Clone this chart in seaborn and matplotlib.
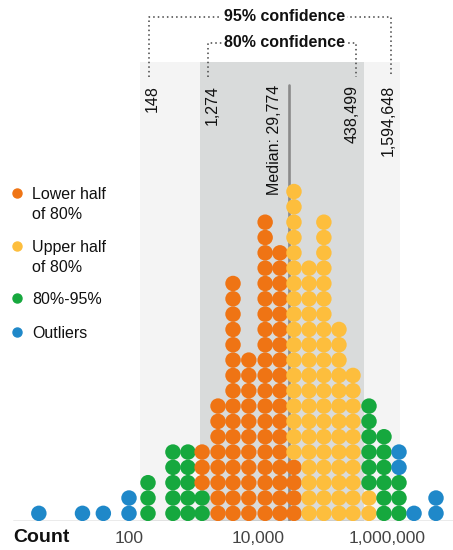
import numpy as np
import pandas as pd
import seaborn as sns
import matplotlib.pyplot as plt

# column positions (value at the centre of each stack) and dot counts per group
col_values = [4, 19, 40, 100, 197, 480, 820, 1360, 2400, 4100, 7200, 12900,
              21900, 36100, 61800, 105000, 180000, 297000, 526000, 898000,
              1535000, 2625000, 5750000]
outliers = [1, 1, 1, 2, 0, 0, 0, 0, 0, 0, 0, 0, 0, 0, 0, 0, 0, 0, 0, 0, 2, 1, 2]
band_80_95 = [0, 0, 0, 0, 3, 5, 5, 2, 0, 0, 0, 0, 0, 0, 0, 0, 0, 0, 6, 6, 3, 0, 0]
lower_half = [0, 0, 0, 0, 0, 0, 0, 3, 8, 16, 11, 20, 18, 4, 0, 0, 0, 0, 0, 0, 0, 0, 0]
upper_half = [0, 0, 0, 0, 0, 0, 0, 0, 0, 0, 0, 0, 0, 18, 17, 20, 13, 10, 2, 0, 0, 0, 0]

median = 29774
ci80 = (1274, 438499)
ci95 = (148, 1594648)
ci80_labels = ('1,274', '438,499')
ci95_labels = ('148', '1,594,648')

tick_values = [100, 10000, 1000000]
tick_labels = ['100', '10,000', '1,000,000']

groups = ['Lower half\nof 80%', 'Upper half\nof 80%', '80%-95%', 'Outliers']
colors = ['#ef7414', '#fdbe3d', '#16a83e', '#1f88c9']
palette = dict(zip(groups, colors))

# stack the dots in each column
rows = []
for i, v in enumerate(col_values):
    counts = {'Outliers': outliers[i], '80%-95%': band_80_95[i],
              'Lower half\nof 80%': lower_half[i], 'Upper half\nof 80%': upper_half[i]}
    if v < median:
        order = ['Outliers', '80%-95%', 'Lower half\nof 80%', 'Upper half\nof 80%']
    else:
        order = ['Lower half\nof 80%', 'Upper half\nof 80%', '80%-95%', 'Outliers']
    level = 0
    for g in order:
        for _ in range(counts[g]):
            rows.append((v, level + 0.5, g))
            level += 1
df = pd.DataFrame(rows, columns=['value', 'row', 'group'])

sns.set_style('white')
plt.rcParams['font.family'] = ['Liberation Sans', 'DejaVu Sans']

W, H = 453, 550
fig = plt.figure(figsize=(W / 100, H / 100), dpi=100)
ax = fig.add_axes([13 / W, 29 / H, 440 / W, 521 / H])
ax.set_xscale('log')
ax.set_xlim(1.59, 1.055e7)
ax.set_ylim(0, 34)

shade_top = 29.94
label_top = 28.44
bracket_bottom = 28.96

# confidence bands
ax.axvspan(ci95[0], ci95[1], ymin=0, ymax=shade_top / 34, color='#f4f4f4', lw=0, zorder=0)
ax.axvspan(ci80[0], ci80[1], ymin=0, ymax=shade_top / 34, color='#d9dbdb', lw=0, zorder=0)

# median line
ax.plot([median, median], [0, label_top], color='#8a8a8a', lw=1.9, zorder=1)

sns.scatterplot(data=df, x='value', y='row', hue='group', palette=palette,
                s=124, linewidth=0, legend=False, ax=ax, zorder=3)

ax.axhline(0, color='#9a9a9a', lw=1, zorder=2)

for s in ax.spines.values():
    s.set_visible(False)
ax.set_xlabel('')
ax.set_ylabel('')
ax.set_yticks([])
ax.xaxis.set_minor_locator(plt.NullLocator())
ax.set_xticks(tick_values)
ax.set_xticklabels(tick_labels)
ax.tick_params(axis='x', length=0, pad=7, labelsize=12.5, labelcolor='#444444')


def shift(v, px):
    # move a data x value by some pixels along the log axis
    xd, _ = ax.transData.transform((v, 1))
    return ax.transData.inverted().transform((xd + px, 1))[0]


# rotated value labels
for v, lab, side in [(ci95[0], ci95_labels[0], 1), (ci80[0], ci80_labels[0], 1),
                     (ci80[1], ci80_labels[1], -1), (ci95[1], ci95_labels[1], -1)]:
    ax.text(shift(v, side * 12), label_top, lab, rotation=90, ha='center', va='top',
            fontsize=11.5, color='#111111')
ax.text(shift(median, -14), label_top, 'Median: 29,774', rotation=90, ha='center',
        va='top', fontsize=11.5, color='#111111')

# dotted brackets
text_x = np.sqrt(ci80[0] * ci80[1])
for (lo, hi), y, lab, off in [(ci95, 32.9, '95% confidence', 9), (ci80, 31.2, '80% confidence', 8)]:
    xs = [shift(lo, off), shift(lo, off), shift(hi, -off), shift(hi, -off)]
    ys = [bracket_bottom, y, y, bracket_bottom]
    ax.plot(xs, ys, ls=(0, (1, 2)), color='#444444', lw=1.1, zorder=4)
    ax.text(shift(text_x, 2), y, lab, ha='center', va='center', fontsize=11.5,
            fontweight='bold', color='#111111', zorder=5,
            bbox=dict(fc='white', ec='none', pad=1.5))

# legend
leg_y = [193, 246, 298, 332]
for g, c, py in zip(groups, colors, leg_y):
    ax.plot([17 / W], [1 - py / H], 'o', ms=6.5, color=c, transform=fig.transFigure,
            clip_on=False)
    for k, line in enumerate(g.split('\n')):
        fig.text(32 / W, 1 - (py + k * 20) / H, line, ha='left', va='center_baseline',
                 fontsize=11.5, color='#111111')

fig.text(13 / W, 1 - 538 / H, 'Count', ha='left', va='center', fontsize=14,
         fontweight='bold', color='#111111')

fig.savefig('out.png', dpi=100)
